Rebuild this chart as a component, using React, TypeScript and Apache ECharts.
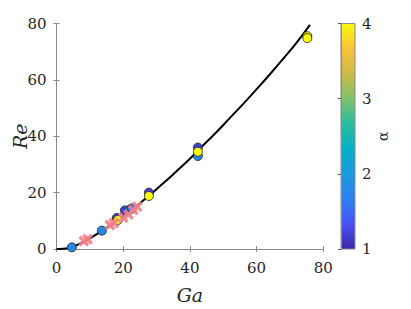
import React, { useEffect, useRef } from 'react';
import * as echarts from 'echarts';

// Fitted curve Re(Ga)
const curveGa = [0, 2, 4, 6, 8, 10, 12, 14, 16, 18, 20, 22, 25, 28, 32, 36, 40, 44, 48, 52, 56, 60, 64, 68, 72, 76];
const curveRe = [0, 0.1, 0.4, 1.3, 2.5, 3.8, 5.2, 6.7, 8.3, 10.0, 11.7, 13.4, 16.2, 19.2, 23.3, 27.6, 32.0, 36.8, 41.5, 46.5, 51.5, 56.7, 62.0, 67.5, 73.2, 79.5];

// Circle markers (coloured by alpha)
const circleGa = [4.6, 13.6, 18.1, 18.4, 20.5, 22.0, 22.6, 27.7, 27.7, 42.4, 42.4, 42.4, 75.2, 75.2];
const circleRe = [0.6, 6.5, 11.0, 10.3, 13.7, 14.0, 14.4, 20.0, 18.8, 36.0, 33.0, 34.5, 75.5, 74.8];
const circleAlpha = [1.8, 1.8, 1.15, 4.0, 1.2, 2.4, 1.5, 1.2, 4.0, 1.2, 1.7, 4.0, 4.0, 4.0];

// Cross markers
const crossGa = [8.2, 9.3, 16.0, 17.2, 20.0, 21.6, 23.0, 24.2];
const crossRe = [2.8, 3.5, 8.5, 9.2, 11.1, 12.2, 13.8, 15.0];

// Tick settings
const axisMin = 0;
const axisMax = 80;
const axisStep = 20;
const alphaMin = 1;
const alphaMax = 4;
const alphaStep = 1;

const parulaStops = [0, 0.11, 0.22, 0.33, 0.44, 0.56, 0.67, 0.78, 0.89, 1];
const parulaColors = ['#3e26a8', '#4852f4', '#2e7ff2', '#1b98df', '#06b0c6', '#2cbc9d', '#82c26a', '#d0ba4a', '#fbc13b', '#f9fb0e'];

const FONT = 'DejaVu Serif';
const AXIS_GRAY = '#8a8a8a';
const TEXT = '#262626';

const crossPath = 'path://M0,0.22 L0.22,0 L0.5,0.28 L0.78,0 L1,0.22 L0.72,0.5 L1,0.78 L0.78,1 L0.5,0.72 L0.22,1 L0,0.78 L0.28,0.5 Z';

export default function App() {
  const ref = useRef<HTMLDivElement>(null);
  useEffect(() => {
    if (!ref.current) return;
    const chart = echarts.init(ref.current, undefined, { renderer: 'svg' });
    const gL = 56.5, gT = 23.5, gW = 266.8, gH = 225.5;
    const cL = 341, cW = 14;
    const mainAxisCommon = {
      min: axisMin, max: axisMax, interval: axisStep,
      axisLine: { show: true, lineStyle: { color: AXIS_GRAY, width: 1 } },
      axisTick: { show: true, inside: true, length: 3, lineStyle: { color: AXIS_GRAY } },
      splitLine: { show: false },
    };
    const labelStyle = { fontFamily: FONT, fontSize: 15, color: TEXT };
    const option: any = {
      animation: false,
      backgroundColor: '#ffffff',
      textStyle: { fontFamily: FONT },
      grid: [
        { left: gL, top: gT, width: gW, height: gH, containLabel: false, outerBoundsMode: 'none' },
        { left: cL, top: gT, width: cW, height: gH, containLabel: false, outerBoundsMode: 'none' },
      ],
      xAxis: [
        {
          ...mainAxisCommon, type: 'value', gridIndex: 0, position: 'bottom',
          axisLabel: { ...labelStyle, margin: 11 },
          name: 'Ga', nameLocation: 'middle', nameGap: 36, nameMoveOverlap: false,
          nameTextStyle: { fontFamily: FONT, fontSize: 19, fontStyle: 'italic', color: TEXT },
        },
        {
          ...mainAxisCommon, type: 'value', gridIndex: 0, position: 'top',
          axisLabel: { show: false },
        },
        { type: 'value', gridIndex: 1, min: 0, max: 1, show: false },
      ],
      yAxis: [
        {
          ...mainAxisCommon, type: 'value', gridIndex: 0, position: 'left',
          axisLabel: { ...labelStyle, margin: 10 },
          name: 'Re', nameLocation: 'middle', nameGap: 27, nameRotate: 90, nameMoveOverlap: false,
          nameTextStyle: { fontFamily: FONT, fontSize: 19, fontStyle: 'italic', color: TEXT },
        },
        {
          ...mainAxisCommon, type: 'value', gridIndex: 0, position: 'right',
          axisLabel: { show: false },
        },
        {
          type: 'value', gridIndex: 1, position: 'right',
          min: alphaMin, max: alphaMax, interval: alphaStep,
          axisLine: { show: true, lineStyle: { color: AXIS_GRAY } },
          axisTick: { show: true, inside: true, length: 3, lineStyle: { color: '#555' } },
          splitLine: { show: false },
          axisLabel: { ...labelStyle, margin: 7 },
          name: 'α', nameLocation: 'middle', nameGap: 21, nameRotate: 90, nameMoveOverlap: false,
          nameTextStyle: { fontFamily: FONT, fontSize: 14, color: TEXT },
        },
      ],
      visualMap: {
        type: 'continuous', show: false, min: alphaMin, max: alphaMax, dimension: 2, seriesIndex: 1,
        inRange: { color: parulaColors },
      },
      graphic: [
        {
          type: 'rect', z: -1,
          shape: { x: cL, y: gT, width: cW, height: gH },
          style: {
            fill: new echarts.graphic.LinearGradient(0, 1, 0, 0,
              parulaStops.map((s, i) => ({ offset: s, color: parulaColors[i] }))),
            stroke: AXIS_GRAY, lineWidth: 1,
          },
        },
      ],
      series: [
        {
          type: 'line', xAxisIndex: 0, yAxisIndex: 0,
          data: curveGa.map((g, i) => [g, curveRe[i]]),
          showSymbol: false, smooth: true, clip: true,
          lineStyle: { color: '#000', width: 2 }, z: 2,
        },
        {
          type: 'scatter', xAxisIndex: 0, yAxisIndex: 0,
          data: circleGa.map((g, i) => [g, circleRe[i], circleAlpha[i]]),
          symbol: 'circle', symbolSize: 9,
          itemStyle: { borderColor: '#1e1e1e', borderWidth: 0.8, opacity: 1 }, z: 3,
        },
        {
          type: 'scatter', xAxisIndex: 0, yAxisIndex: 0,
          data: crossGa.map((g, i) => [g, crossRe[i]]),
          symbol: crossPath, symbolSize: 11,
          itemStyle: { color: '#f28088', opacity: 0.9 }, z: 4,
        },
      ],
    };
    chart.setOption(option);
    return () => chart.dispose();
  }, []);
  return <div ref={ref} style={{ position: 'fixed', left: 0, top: 0, width: 411, height: 309 }} />;
}
